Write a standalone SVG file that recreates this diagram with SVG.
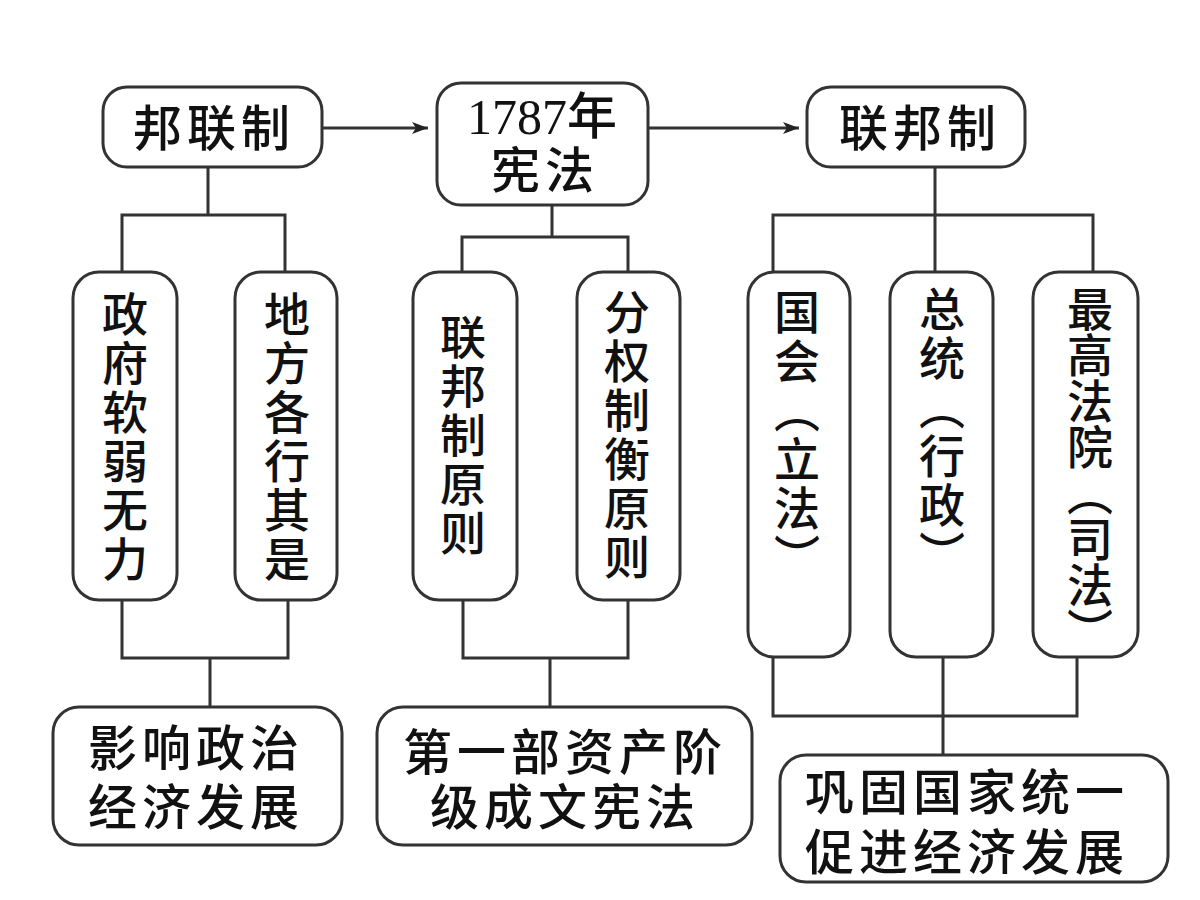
<svg xmlns="http://www.w3.org/2000/svg" width="1200" height="900" viewBox="0 0 1200 900">
<style>
.box{fill:#fff;stroke:#333;stroke-width:3}
.ln{fill:none;stroke:#333;stroke-width:3}
.t{font-family:"Noto Sans CJK SC","Noto Sans",sans-serif;font-weight:500;fill:#111;text-anchor:middle}
.h{font-size:49px;letter-spacing:5px}
.v{font-size:46px;writing-mode:vertical-rl;letter-spacing:3px}
.num{font-family:"Liberation Serif","DejaVu Serif",serif;font-size:50px;fill:#111}
</style>
<defs>
<marker id="arr" markerUnits="userSpaceOnUse" markerWidth="16" markerHeight="12" refX="16" refY="6" orient="auto">
<path d="M0,0 L16,6 L0,12 L4,6 Z" fill="#222"/>
</marker>
</defs>
<rect width="1200" height="900" fill="#fff"/>
<g id="connectors">
<line class="ln" x1="322" y1="128" x2="428" y2="128" marker-end="url(#arr)"/>
<line class="ln" x1="648" y1="128" x2="799" y2="128" marker-end="url(#arr)"/>
<path class="ln" d="M208,167 V215 M122,272 V215 H285 V272"/>
<path class="ln" d="M552,205 V237 M462,272 V237 H628 V272"/>
<path class="ln" d="M935,167 V272 M773,272 V215 H1093 V272"/>
<path class="ln" d="M122,600 V658 H288 V600 M210,658 V707"/>
<path class="ln" d="M463,600 V658 H628 V600 M550,658 V707"/>
<path class="ln" d="M773,657 V716 H1077 V657 M943,657 V755"/>
</g>
<g id="n-confed">
<rect class="box" x="103" y="87" width="219" height="80" rx="24"/>
<text class="t h" x="214" y="146">邦联制</text>
</g>
<g id="n-1787">
<rect class="box" x="437" y="83" width="211" height="122" rx="24"/>
<text x="542" y="134" text-anchor="middle"><tspan class="num">1787</tspan><tspan class="t" style="font-size:50px">年</tspan></text>
<text class="t h" x="545" y="188">宪法</text>
</g>
<g id="n-federal">
<rect class="box" x="807" y="87" width="218" height="80" rx="24"/>
<text class="t h" x="920" y="146">联邦制</text>
</g>
<g id="n-weak">
<rect class="box" x="73" y="272" width="104" height="328" rx="26"/>
<text class="t v" x="125" y="438">政府软弱无力</text>
</g>
<g id="n-local">
<rect class="box" x="235" y="272" width="102" height="328" rx="26"/>
<text class="t v" x="287" y="438">地方各行其是</text>
</g>
<g id="n-fedprin">
<rect class="box" x="413" y="272" width="104" height="328" rx="26"/>
<text class="t v" x="463" y="436">联邦制原则</text>
</g>
<g id="n-checks">
<rect class="box" x="577" y="272" width="103" height="328" rx="26"/>
<text class="t v" x="627" y="436">分权制衡原则</text>
</g>
<g id="n-congress">
<rect class="box" x="748" y="272" width="102" height="385" rx="26"/>
<text class="t v" x="797" y="436">国会（立法）</text>
</g>
<g id="n-president">
<rect class="box" x="890" y="272" width="103" height="385" rx="26"/>
<text class="t v" x="942" y="433">总统（行政）</text>
</g>
<g id="n-court">
<rect class="box" x="1033" y="272" width="105" height="385" rx="26"/>
<text class="t v" x="1090" y="470" style="letter-spacing:0">最高法院（司法）</text>
</g>
<g id="n-effect1">
<rect class="box" x="53" y="707" width="289" height="138" rx="26"/>
<text class="t h" x="196" y="766">影响政治</text>
<text class="t h" x="196" y="825">经济发展</text>
</g>
<g id="n-effect2">
<rect class="box" x="377" y="707" width="375" height="138" rx="26"/>
<text class="t h" x="565" y="770">第一部资产阶</text>
<text class="t h" x="565" y="825">级成文宪法</text>
</g>
<g id="n-effect3">
<rect class="box" x="780" y="755" width="388" height="127" rx="26"/>
<text class="t h" x="967" y="810">巩固国家统一</text>
<text class="t h" x="967" y="870">促进经济发展</text>
</g>
</svg>
